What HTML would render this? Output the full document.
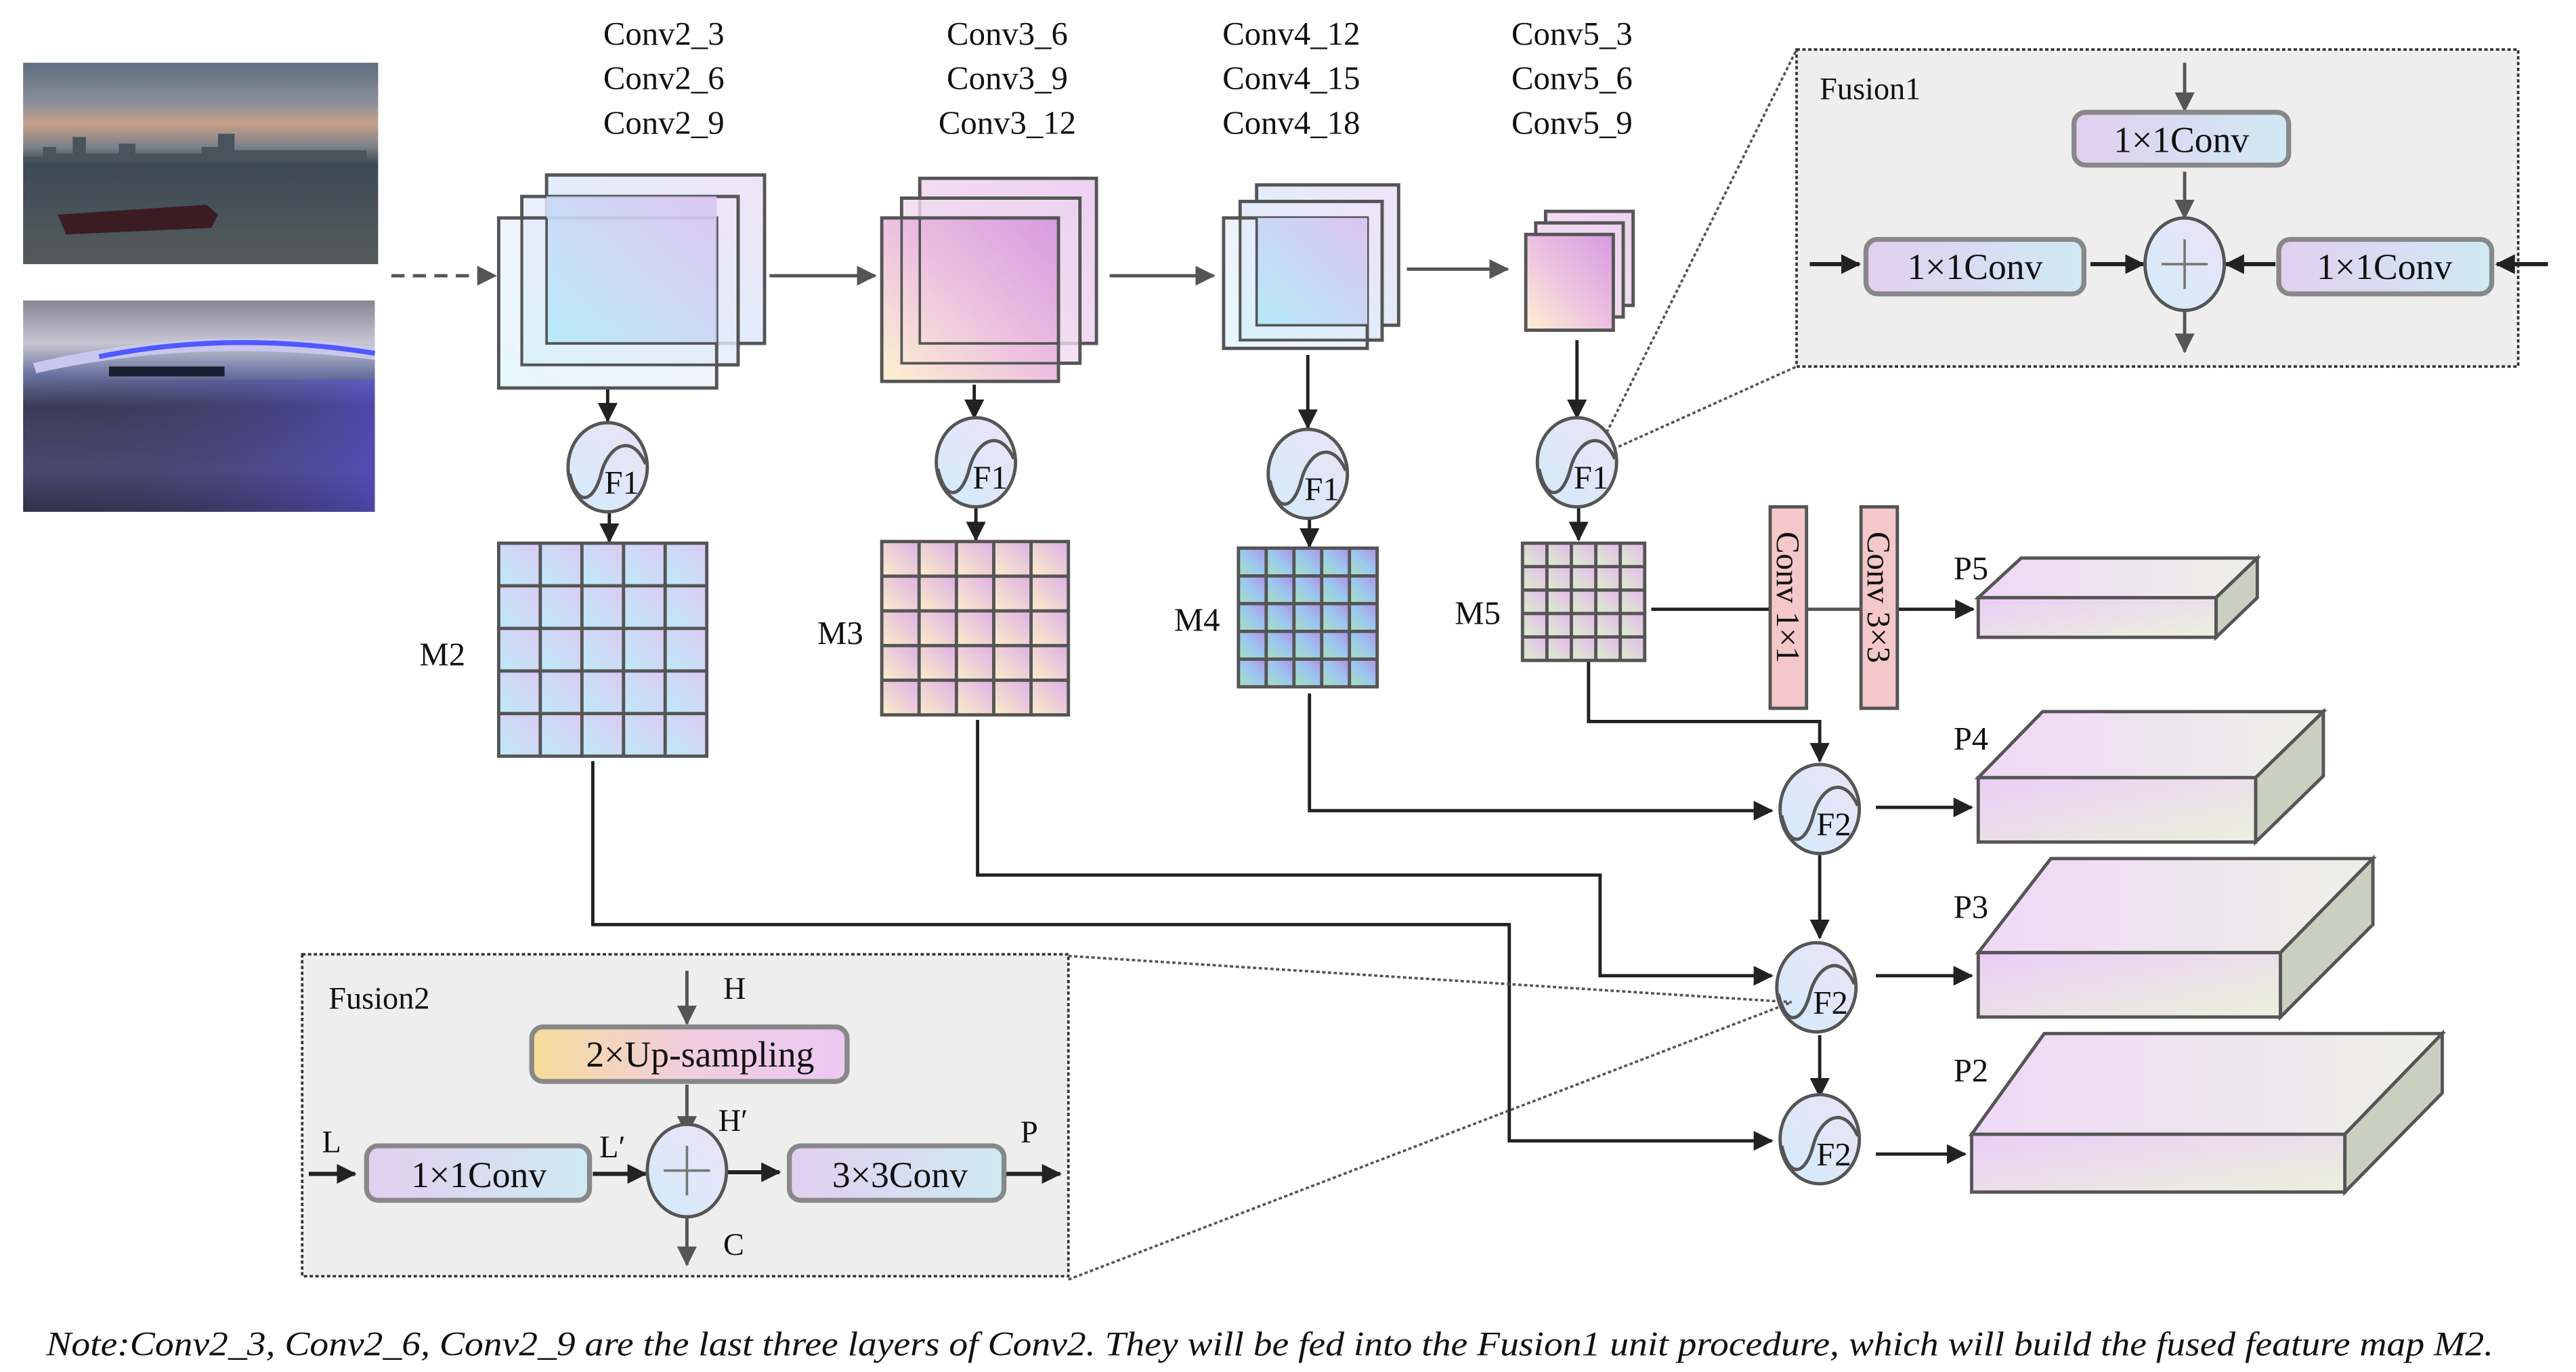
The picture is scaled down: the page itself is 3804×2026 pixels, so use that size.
<!DOCTYPE html>
<html><head><meta charset="utf-8">
<style>
html,body{margin:0;padding:0;background:#fff;}
svg{display:block;}
svg text{font-family:"Liberation Serif","Times New Roman",serif;fill:#111;}
</style></head>
<body>
<svg width="3804" height="2026" viewBox="0 0 1560 831" preserveAspectRatio="none" xmlns="http://www.w3.org/2000/svg" font-family="Liberation Serif, serif">
<defs>
<marker id="ar" markerUnits="userSpaceOnUse" markerWidth="12" markerHeight="12" refX="11" refY="6" orient="auto"><path d="M0,0 L12,6 L0,12 z" fill="#222"/></marker>
<marker id="arg" markerUnits="userSpaceOnUse" markerWidth="12" markerHeight="12" refX="11" refY="6" orient="auto"><path d="M0,0 L12,6 L0,12 z" fill="#555"/></marker>
<linearGradient id="gC2" x1="0" y1="1" x2="1" y2="0"><stop offset="0" stop-color="#b5eaf8"/><stop offset="1" stop-color="#dcc4f2"/></linearGradient>
<linearGradient id="gC2b" x1="0" y1="1" x2="1" y2="0"><stop offset="0" stop-color="#d6f3fb"/><stop offset="1" stop-color="#efe4f8"/></linearGradient>
<linearGradient id="gC3" x1="0" y1="1" x2="1" y2="0"><stop offset="0" stop-color="#fdf2d0"/><stop offset="0.5" stop-color="#ecc0e0"/><stop offset="1" stop-color="#d79ae0"/></linearGradient>
<linearGradient id="gC3b" x1="0" y1="1" x2="1" y2="0"><stop offset="0" stop-color="#f5e4f0"/><stop offset="1" stop-color="#ecd2f0"/></linearGradient>
<linearGradient id="gM2" x1="0" y1="1" x2="1" y2="0"><stop offset="0" stop-color="#bdeaf8"/><stop offset="1" stop-color="#dccaf3"/></linearGradient>
<linearGradient id="gM3" x1="0" y1="1" x2="1" y2="0"><stop offset="0" stop-color="#fbeec8"/><stop offset="1" stop-color="#deb0e6"/></linearGradient>
<linearGradient id="gM4" x1="0" y1="1" x2="1" y2="0"><stop offset="0" stop-color="#a8e0b8"/><stop offset="0.5" stop-color="#9cc8ef"/><stop offset="1" stop-color="#b08fe6"/></linearGradient>
<linearGradient id="gM5" x1="0" y1="1" x2="1" y2="0"><stop offset="0" stop-color="#d8f0c8"/><stop offset="1" stop-color="#e6b8ee"/></linearGradient>
<linearGradient id="gF" x1="0" y1="1" x2="1" y2="0"><stop offset="0" stop-color="#d2ecfa"/><stop offset="1" stop-color="#ece2f6"/></linearGradient>
<linearGradient id="gBox" x1="0" y1="0" x2="1" y2="0"><stop offset="0" stop-color="#e2cff0"/><stop offset="1" stop-color="#cfeaf3"/></linearGradient>
<linearGradient id="gUp" x1="0" y1="0" x2="1" y2="0"><stop offset="0" stop-color="#f5dc98"/><stop offset="0.5" stop-color="#f0cde0"/><stop offset="1" stop-color="#ecc8f2"/></linearGradient>
<linearGradient id="gP" x1="0" y1="0" x2="1" y2="1"><stop offset="0" stop-color="#ebcdf6"/><stop offset="1" stop-color="#ebf1dc"/></linearGradient>
<linearGradient id="gPt" x1="0" y1="0" x2="1" y2="0"><stop offset="0" stop-color="#efd8f6"/><stop offset="1" stop-color="#eef0e8"/></linearGradient>
<linearGradient id="sky1" x1="0" y1="0" x2="0" y2="1"><stop offset="0" stop-color="#5d6f80"/><stop offset="0.2" stop-color="#8a8f98"/><stop offset="0.3" stop-color="#c8a08a"/><stop offset="0.42" stop-color="#7a8088"/><stop offset="0.5" stop-color="#3c4a56"/><stop offset="1" stop-color="#555b5c"/></linearGradient>
<linearGradient id="sky2" x1="0" y1="0" x2="0" y2="1"><stop offset="0" stop-color="#888693"/><stop offset="0.2" stop-color="#c8c6d2"/><stop offset="0.35" stop-color="#6a74a0"/><stop offset="0.5" stop-color="#3a3c56"/><stop offset="0.8" stop-color="#4a4a70"/><stop offset="1" stop-color="#303048"/></linearGradient>
<linearGradient id="wat2" x1="0" y1="0" x2="1" y2="0"><stop offset="0" stop-color="#3a3a50" stop-opacity="0"/><stop offset="1" stop-color="#5a50e0" stop-opacity="0.6"/></linearGradient>
<pattern id="pM2" patternUnits="userSpaceOnUse" x="302" y="329" width="25.2" height="25.8"><rect width="25.2" height="25.8" fill="url(#gM2)"/></pattern>
<pattern id="pM3" patternUnits="userSpaceOnUse" x="534" y="328" width="22.6" height="21"><rect width="22.6" height="21" fill="url(#gM3)"/></pattern>
<pattern id="pM4" patternUnits="userSpaceOnUse" x="750" y="332" width="16.8" height="16.8"><rect width="16.8" height="16.8" fill="url(#gM4)"/></pattern>
<pattern id="pM5" patternUnits="userSpaceOnUse" x="922" y="329" width="14.8" height="14.2"><rect width="14.8" height="14.2" fill="url(#gM5)"/></pattern>
<g id="fc"><ellipse cx="0" cy="0" rx="24" ry="27" fill="url(#gF)" stroke="#555" stroke-width="2"/><path d="M-23,4 C-18,26 -8,20 -4,4 C0,-12 14,-22 23,-2" fill="none" stroke="#555" stroke-width="2"/></g>
<g id="pc"><ellipse cx="0" cy="0" rx="24" ry="28" fill="url(#gF)" stroke="#555" stroke-width="2"/><path d="M-14,0 H14 M0,-15 V15" stroke="#777" stroke-width="1.5"/></g>
</defs>

<!-- photos -->
<rect x="14" y="38" width="215" height="122" fill="url(#sky1)"/>
<path d="M14,95 h12 v-6 h8 v4 h10 v-10 h8 v10 h20 v-6 h10 v6 h40 v-4 h10 v-8 h10 v10 h80 v6 H14z" fill="#4a525c"/>
<path d="M35,130 L125,124 L132,130 L128,138 L40,142 z" fill="#3a1c22"/>
<rect x="14" y="182" width="213" height="128" fill="url(#sky2)"/>
<rect x="14" y="230" width="213" height="80" fill="url(#wat2)"/>
<path d="M20,220 Q120,196 227,210 L227,218 Q120,204 22,226 z" fill="#c8c8ee"/>
<path d="M60,216 Q140,200 227,214" stroke="#5058ff" stroke-width="3" fill="none"/>
<rect x="66" y="222" width="70" height="6" fill="#1a2030"/>

<line x1="237" y1="167" x2="300" y2="167" stroke="#555" stroke-width="2" stroke-dasharray="8,5" marker-end="url(#arg)"/>

<g font-size="20" text-anchor="middle">
<text x="402" y="27">Conv2_3</text><text x="402" y="54">Conv2_6</text><text x="402" y="81">Conv2_9</text>
<text x="610" y="27">Conv3_6</text><text x="610" y="54">Conv3_9</text><text x="610" y="81">Conv3_12</text>
<text x="782" y="27">Conv4_12</text><text x="782" y="54">Conv4_15</text><text x="782" y="81">Conv4_18</text>
<text x="952" y="27">Conv5_3</text><text x="952" y="54">Conv5_6</text><text x="952" y="81">Conv5_9</text>
</g>

<g stroke="#555" stroke-width="2">
<rect x="331" y="106" width="132" height="102" fill="url(#gC2b)"/>
<rect x="316" y="119" width="131" height="102" fill="url(#gC2b)" fill-opacity="0.8"/>
<rect x="302" y="132" width="132" height="103" fill="url(#gC2b)" fill-opacity="0.6"/>
<rect x="331" y="119" width="103" height="89" fill="url(#gC2)" stroke="none" opacity="0.9"/>
<rect x="557" y="108" width="107" height="100" fill="url(#gC3b)"/>
<rect x="546" y="120" width="108" height="100" fill="url(#gC3b)" fill-opacity="0.8"/>
<rect x="534" y="132" width="107" height="99" fill="url(#gC3)"/>
<rect x="761" y="112" width="86" height="85" fill="url(#gC2b)"/>
<rect x="751" y="122" width="86" height="84" fill="url(#gC2b)"/>
<rect x="741" y="132" width="87" height="79" fill="url(#gC2b)" fill-opacity="0.6"/>
<rect x="761" y="132" width="67" height="65" fill="url(#gC2)" stroke="none"/>
<rect x="936" y="128" width="53" height="57" fill="url(#gC3b)"/>
<rect x="930" y="135" width="53" height="57" fill="url(#gC3b)"/>
<rect x="924" y="142" width="53" height="58" fill="url(#gC3)"/>
</g>
<g stroke="#555" stroke-width="1.5" fill="none">
<path d="M331,132 V208 H434"/><path d="M316,132 V221 H434"/>
<path d="M557,132 V208 H641"/><path d="M546,132 V220 H641"/>
<path d="M761,132 V197 H828"/><path d="M751,132 V206 H828"/>
</g>
<g stroke="#555" stroke-width="2" fill="none" marker-end="url(#arg)">
<line x1="466" y1="167" x2="530" y2="167"/>
<line x1="672" y1="167" x2="735" y2="167"/>
<line x1="852" y1="163" x2="913" y2="163"/>
</g>

<g stroke="#222" stroke-width="2" fill="none" marker-end="url(#ar)">
<line x1="368" y1="236" x2="368" y2="255"/><line x1="369" y1="310" x2="369" y2="328"/>
<line x1="590" y1="233" x2="590" y2="253"/><line x1="591" y1="307" x2="591" y2="327"/>
<line x1="792" y1="215" x2="792" y2="259"/><line x1="793" y1="314" x2="793" y2="331"/>
<line x1="955" y1="206" x2="955" y2="253"/><line x1="956" y1="307" x2="956" y2="327"/>
</g>
<use href="#fc" x="368" y="283"/><use href="#fc" x="591" y="280"/><use href="#fc" x="792" y="287"/><use href="#fc" x="955" y="280"/>
<g font-size="20"><text x="366" y="299">F1</text><text x="589" y="296">F1</text><text x="790" y="303">F1</text><text x="953" y="296">F1</text></g>

<g stroke="#555" stroke-width="2">
<rect x="302" y="329" width="126" height="129" fill="url(#pM2)"/>
<path d="M327.2,329V458M352.4,329V458M377.6,329V458M402.8,329V458M302,354.8H428M302,380.6H428M302,406.4H428M302,432.2H428" fill="none"/>
<rect x="534" y="328" width="113" height="105" fill="url(#pM3)"/>
<path d="M556.6,328V433M579.2,328V433M601.8,328V433M624.4,328V433M534,349H647M534,370H647M534,391H647M534,412H647" fill="none"/>
<rect x="750" y="332" width="84" height="84" fill="url(#pM4)"/>
<path d="M766.8,332V416M783.6,332V416M800.4,332V416M817.2,332V416M750,348.8H834M750,365.6H834M750,382.4H834M750,399.2H834" fill="none"/>
<rect x="922" y="329" width="74" height="71" fill="url(#pM5)"/>
<path d="M936.8,329V400M951.6,329V400M966.4,329V400M981.2,329V400M922,343.2H996M922,357.4H996M922,371.6H996M922,385.8H996" fill="none"/>
</g>
<g font-size="20"><text x="254" y="403">M2</text><text x="495" y="390">M3</text><text x="711" y="382">M4</text><text x="881" y="378">M5</text></g>

<line x1="973" y1="262" x2="1088" y2="30" stroke="#555" stroke-width="1.5" stroke-dasharray="2,1.5"/>
<line x1="977" y1="272" x2="1088" y2="222" stroke="#555" stroke-width="1.5" stroke-dasharray="2,1.5"/>
<rect x="1088" y="30" width="437" height="192" fill="#eeeeee" stroke="#333" stroke-width="1.5" stroke-dasharray="2,1.5"/>
<text x="1102" y="60" font-size="19">Fusion1</text>
<g stroke="#555" stroke-width="2" fill="none" marker-end="url(#arg)">
<line x1="1323" y1="38" x2="1323" y2="67"/><line x1="1323" y1="104" x2="1323" y2="132"/><line x1="1323" y1="188" x2="1323" y2="213"/>
</g>
<g stroke="#222" stroke-width="2.5" fill="none" marker-end="url(#ar)">
<line x1="1096" y1="160" x2="1126" y2="160"/><line x1="1266" y1="160" x2="1298" y2="160"/>
<line x1="1378" y1="160" x2="1348" y2="160"/><line x1="1543" y1="160" x2="1512" y2="160"/>
</g>
<g stroke="#888" stroke-width="3" fill="url(#gBox)">
<rect x="1256" y="68" width="130" height="32" rx="7"/>
<rect x="1130" y="145" width="132" height="33" rx="7"/>
<rect x="1380" y="145" width="129" height="33" rx="7"/>
</g>
<use href="#pc" x="1323" y="160"/>
<g font-size="22" text-anchor="middle"><text x="1321" y="92">1×1Conv</text><text x="1196" y="169">1×1Conv</text><text x="1444" y="169">1×1Conv</text></g>

<line x1="1000" y1="369" x2="1072" y2="369" stroke="#222" stroke-width="2"/>
<line x1="1094" y1="369" x2="1127" y2="369" stroke="#555" stroke-width="2"/>
<line x1="1149" y1="369" x2="1195" y2="369" stroke="#222" stroke-width="2" marker-end="url(#ar)"/>
<g stroke="#555" stroke-width="2" fill="#f4c8c8">
<rect x="1072" y="307" width="22" height="122"/><rect x="1127" y="307" width="22" height="122"/>
</g>
<g font-size="20"><text transform="translate(1076,322) rotate(90)">Conv 1×1</text><text transform="translate(1131,322) rotate(90)">Conv 3×3</text></g>

<g stroke="#555" stroke-width="2">
<path d="M1198,362 L1224,338 L1367,338 L1342,362 z" fill="url(#gPt)"/>
<path d="M1342,362 L1367,338 L1367,362 L1342,386 z" fill="#cbcfc0"/>
<rect x="1198" y="362" width="144" height="24" fill="url(#gP)"/>
<path d="M1198,471 L1237,431 L1407,431 L1366,471 z" fill="url(#gPt)"/>
<path d="M1366,471 L1407,431 L1407,470 L1366,510 z" fill="#cbcfc0"/>
<rect x="1198" y="471" width="168" height="39" fill="url(#gP)"/>
<path d="M1198,577 L1242,520 L1437,520 L1381,577 z" fill="url(#gPt)"/>
<path d="M1381,577 L1437,520 L1437,560 L1381,616 z" fill="#cbcfc0"/>
<rect x="1198" y="577" width="183" height="39" fill="url(#gP)"/>
<path d="M1194,687 L1238,626 L1479,626 L1420,687 z" fill="url(#gPt)"/>
<path d="M1420,687 L1479,626 L1479,662 L1420,722 z" fill="#cbcfc0"/>
<rect x="1194" y="687" width="226" height="35" fill="url(#gP)"/>
</g>
<g font-size="20"><text x="1183" y="351">P5</text><text x="1183" y="454">P4</text><text x="1183" y="556">P3</text><text x="1183" y="655">P2</text></g>

<g stroke="#222" stroke-width="2" fill="none" marker-end="url(#ar)">
<path d="M962,401 V437 H1102 V461"/>
<path d="M793,420 V491 H1073"/>
<path d="M592,436 V530 H969 V591 H1073"/>
<path d="M359,461 V560 H914 V691 H1073"/>
<line x1="1102" y1="518" x2="1102" y2="568"/>
<line x1="1102" y1="627" x2="1102" y2="664"/>
<line x1="1136" y1="489" x2="1194" y2="489"/>
<line x1="1136" y1="591" x2="1194" y2="591"/>
<line x1="1136" y1="699" x2="1190" y2="699"/>
</g>
<use href="#fc" x="1102" y="490"/><use href="#fc" x="1100" y="598"/><use href="#fc" x="1102" y="690"/>
<g font-size="20"><text x="1100" y="506">F2</text><text x="1098" y="614">F2</text><text x="1100" y="706">F2</text></g>

<line x1="647" y1="579" x2="1085" y2="607" stroke="#555" stroke-width="1.5" stroke-dasharray="2,1.5"/>
<line x1="647" y1="775" x2="1085" y2="607" stroke="#555" stroke-width="1.5" stroke-dasharray="2,1.5"/>
<rect x="183" y="578" width="464" height="195" fill="#eeeeee" stroke="#333" stroke-width="1.5" stroke-dasharray="2,1.5"/>
<text x="199" y="611" font-size="19">Fusion2</text>
<g stroke="#555" stroke-width="2" fill="none" marker-end="url(#arg)">
<line x1="416" y1="588" x2="416" y2="620"/><line x1="416" y1="657" x2="416" y2="687"/><line x1="416" y1="737" x2="416" y2="766"/>
</g>
<g stroke="#222" stroke-width="2.5" fill="none" marker-end="url(#ar)">
<line x1="187" y1="711" x2="215" y2="711"/><line x1="359" y1="711" x2="391" y2="711"/>
<line x1="440" y1="710" x2="472" y2="710"/><line x1="609" y1="711" x2="642" y2="711"/>
</g>
<g stroke="#888" stroke-width="3">
<rect x="322" y="622" width="191" height="33" rx="7" fill="url(#gUp)"/>
<rect x="222" y="694" width="135" height="33" rx="7" fill="url(#gBox)"/>
<rect x="478" y="694" width="130" height="33" rx="7" fill="url(#gBox)"/>
</g>
<use href="#pc" x="416" y="709"/>
<g font-size="22" text-anchor="middle"><text x="424" y="646">2×Up-sampling</text><text x="290" y="719">1×1Conv</text><text x="545" y="719">3×3Conv</text></g>
<g font-size="19"><text x="438" y="605">H</text><text x="435" y="685">H′</text><text x="195" y="698">L</text><text x="363" y="701">L′</text><text x="618" y="692">P</text><text x="438" y="760">C</text></g>

<text x="28" y="821" font-size="21" font-style="italic" textLength="1482" lengthAdjust="spacingAndGlyphs">Note:Conv2_3, Conv2_6, Conv2_9 are the last three layers of Conv2. They will be fed into the Fusion1 unit procedure, which will build the fused feature map M2.</text>
</svg>
</body></html>
